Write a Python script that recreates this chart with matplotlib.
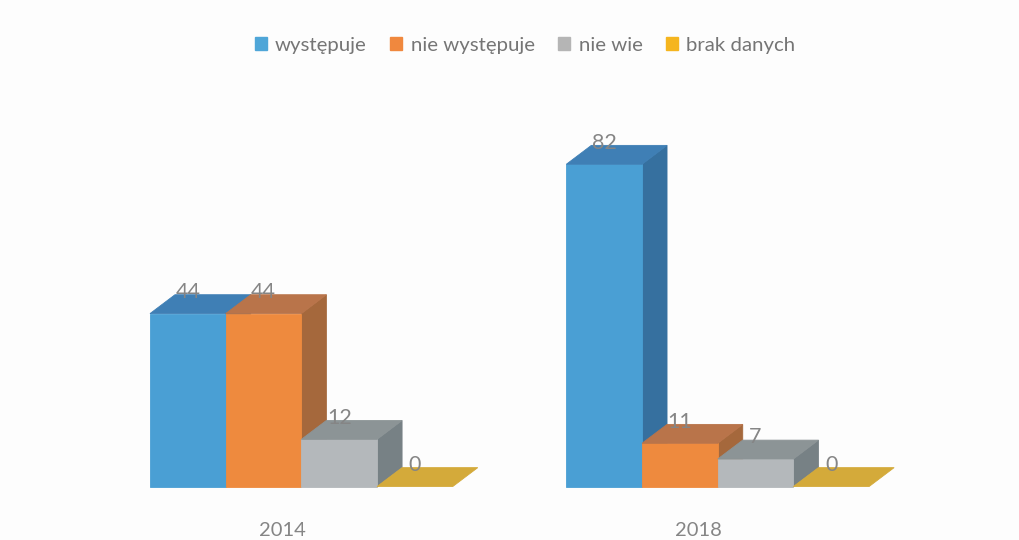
import matplotlib
matplotlib.use('Agg')
import matplotlib.pyplot as plt
from matplotlib.patches import Polygon, Patch

years = ['2014', '2018']
categories = ['występuje', 'nie występuje', 'nie wie', 'brak danych']
values_2014 = [44, 44, 12, 0]
values_2018 = [82, 11, 7, 0]

front_colors = ['#4a9fd4', '#ee8a3e', '#b4b8bb', '#e0b33a']
top_colors = ['#3f7fb5', '#b9744a', '#8c9496', '#d4aa3a']
side_colors = ['#36709f', '#a5683c', '#778185', '#c9a030']
legend_colors = ['#4fa6d8', '#f0883e', '#b5b5b5', '#f5b51e']
text_color = '#858585'

plt.rcParams['font.family'] = ['Lato', 'DejaVu Sans']

fig = plt.figure(figsize=(10.2, 5.4), dpi=100, facecolor='#fdfdfd')
# os: 1 jednostka x = szerokosc slupka, y = wartosc
ax = fig.add_axes([150 / 1020, (540 - 486.5) / 540, 757 / 1020, 393 / 540])
ax.set_xlim(0, 10)
ax.set_ylim(0, 100)
ax.patch.set_alpha(0)

depth_x = 0.33
depth_y = 4.8
group_start = [0, 5.5]


def face(points, color):
    ax.add_patch(Polygon(points, fc=color, ec=color, lw=0.6, clip_on=False))


def draw_bar(x, h, i):
    if h > 0:
        face([(x + 1, 0), (x + 1 + depth_x, depth_y), (x + 1 + depth_x, h + depth_y), (x + 1, h)], side_colors[i])
        face([(x, 0), (x + 1, 0), (x + 1, h), (x, h)], front_colors[i])
    face([(x, h), (x + 1, h), (x + 1 + depth_x, h + depth_y), (x + depth_x, h + depth_y)], top_colors[i])
    ax.text(x + 0.5, h + depth_y + 0.7, str(h), ha='center', va='center', fontsize=15.5,
            color=text_color, clip_on=False, zorder=5)


for start, vals in zip(group_start, [values_2014, values_2018]):
    for i, v in enumerate(vals):
        draw_bar(start + i, v, i)

ax.set_xticks([1.75, 7.25])
ax.set_xticklabels(years, fontsize=14.5, color=text_color)
ax.set_yticks([])
ax.tick_params(axis='x', length=0, pad=25.5)
for s in ax.spines.values():
    s.set_visible(False)

handles = [Patch(color=c, label=n) for c, n in zip(legend_colors, categories)]
fig.legend(handles=handles, loc='center', bbox_to_anchor=(525 / 1020, 1 - 45.5 / 540), ncol=4, frameon=False,
           fontsize=14.7, labelcolor='#757575', handlelength=0.6, handleheight=0.6,
           handletextpad=0.4, columnspacing=1.15)

fig.savefig('out.png', dpi=100, facecolor=fig.get_facecolor())
